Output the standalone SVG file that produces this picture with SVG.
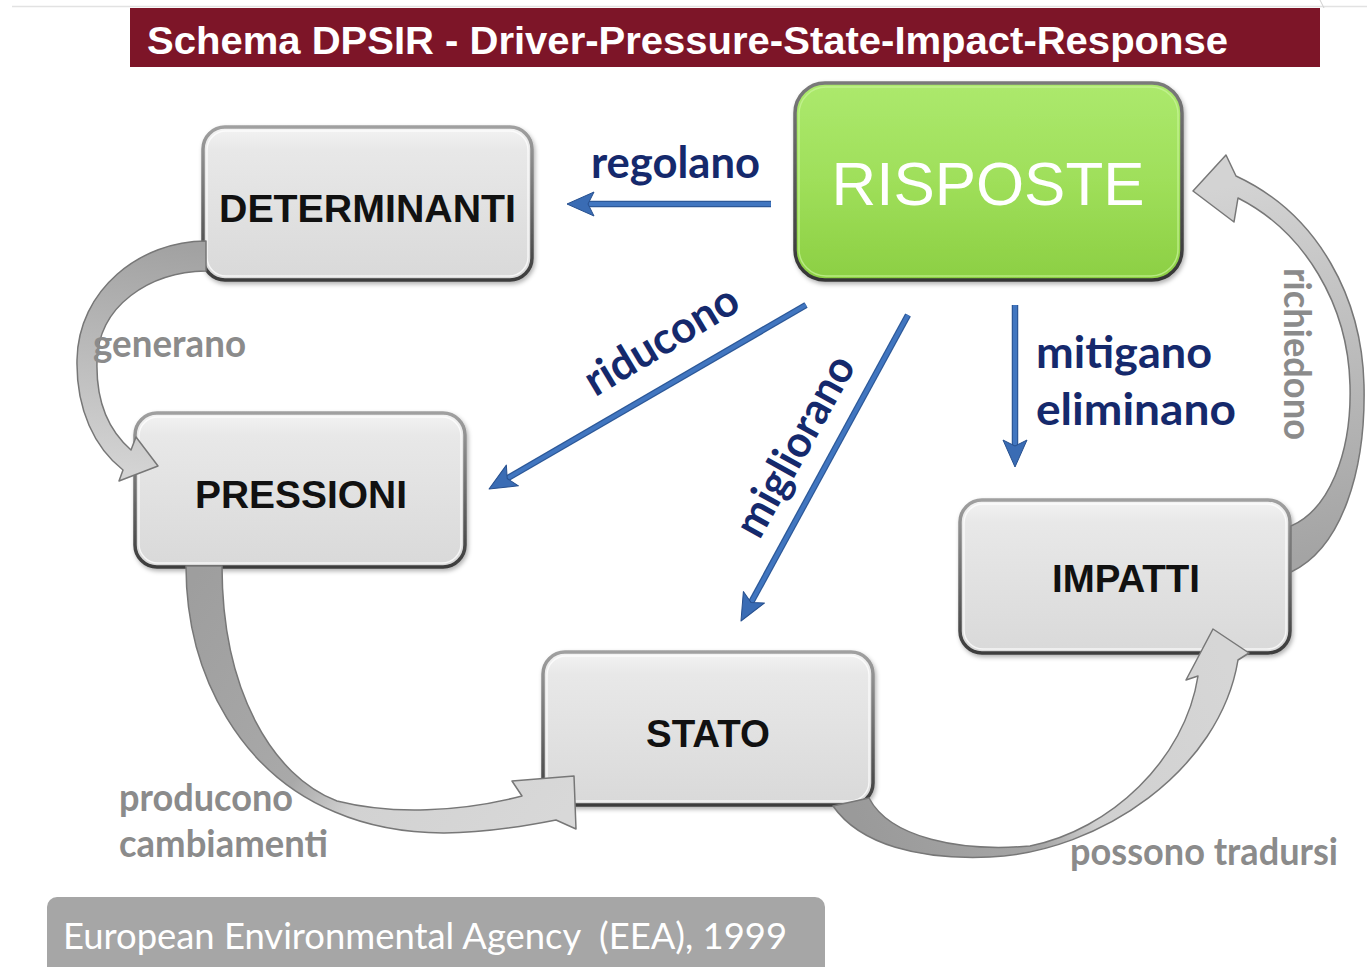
<svg xmlns="http://www.w3.org/2000/svg" width="1367" height="967" viewBox="0 0 1367 967">
  <style>
    .box { fill: url(#boxFill); stroke: url(#boxEdge); stroke-width: 3.5; filter: url(#shadow); }
    .gloss { fill: none; stroke: #ffffff; stroke-opacity: 0.75; stroke-width: 1.5; }
    .node-label { font-family: "Liberation Sans", Arial, sans-serif; font-weight: bold; font-size: 38px; fill: #111111; text-anchor: middle; }
    .verb { font-family: Lato, "Open Sans", sans-serif; font-weight: bold; font-size: 44px; fill: #15296c; }
    .soft-verb { font-family: Lato, "Open Sans", sans-serif; font-weight: bold; font-size: 38px; fill: #8b8b8b; }
    .curve { stroke: #777777; stroke-width: 1.5; stroke-linejoin: round; }
    .blue-edge { fill: none; stroke: #2c5898; stroke-width: 6.5; }
    .blue { fill: none; stroke: #4176c0; stroke-width: 4; marker-end: url(#blueHead); }
  </style>
  <defs>
    <linearGradient id="boxFill" x1="0" y1="0" x2="0" y2="1">
      <stop offset="0" stop-color="#f3f3f3"/>
      <stop offset="0.15" stop-color="#e8e8e8"/>
      <stop offset="1" stop-color="#d9d9d9"/>
    </linearGradient>
    <linearGradient id="boxEdge" x1="0" y1="0" x2="0" y2="1">
      <stop offset="0" stop-color="#a0a0a0"/>
      <stop offset="1" stop-color="#3c3c3c"/>
    </linearGradient>
    <linearGradient id="greenFill" x1="0" y1="0" x2="0" y2="1">
      <stop offset="0" stop-color="#ace96d"/>
      <stop offset="0.5" stop-color="#9fdf5a"/>
      <stop offset="1" stop-color="#8ccf43"/>
    </linearGradient>
    <linearGradient id="greenEdge" x1="0" y1="0" x2="0" y2="1">
      <stop offset="0" stop-color="#7a7a7a"/>
      <stop offset="1" stop-color="#353535"/>
    </linearGradient>
    <linearGradient id="gA" gradientUnits="userSpaceOnUse" x1="160" y1="245" x2="130" y2="470">
      <stop offset="0" stop-color="#a2a2a2"/>
      <stop offset="1" stop-color="#d3d3d3"/>
    </linearGradient>
    <linearGradient id="gB" gradientUnits="userSpaceOnUse" x1="200" y1="570" x2="560" y2="820">
      <stop offset="0" stop-color="#9e9e9e"/>
      <stop offset="0.45" stop-color="#a9a9a9"/>
      <stop offset="0.6" stop-color="#d2d2d2"/>
      <stop offset="1" stop-color="#d8d8d8"/>
    </linearGradient>
    <linearGradient id="gC" gradientUnits="userSpaceOnUse" x1="850" y1="800" x2="1220" y2="650">
      <stop offset="0" stop-color="#9a9a9a"/>
      <stop offset="0.4" stop-color="#a6a6a6"/>
      <stop offset="0.55" stop-color="#d0d0d0"/>
      <stop offset="1" stop-color="#d6d6d6"/>
    </linearGradient>
    <linearGradient id="gD" gradientUnits="userSpaceOnUse" x1="1290" y1="560" x2="1210" y2="190">
      <stop offset="0" stop-color="#a4a4a4"/>
      <stop offset="1" stop-color="#d3d3d3"/>
    </linearGradient>
    <filter id="shadow" x="-10%" y="-10%" width="125%" height="130%">
      <feDropShadow dx="1.5" dy="2.5" stdDeviation="2" flood-color="#000000" flood-opacity="0.3"/>
    </filter>
    <marker id="blueHead" markerUnits="userSpaceOnUse" viewBox="0 0 30 26" markerWidth="30" markerHeight="26" refX="10" refY="13" orient="auto">
      <path d="M1,1 L28,13 L1,25 L7,13 Z" fill="#3a6cb4" stroke="#264f8e" stroke-width="1" stroke-linejoin="round"/>
    </marker>
  </defs>

  <rect width="1367" height="967" fill="#ffffff"/>
  <path d="M12,6.5 H1367" stroke="#e2e2e2" stroke-width="1.5"/>
  <path d="M1320,0 Q1322,4 1324,8" stroke="#cfcfcf" stroke-width="1" fill="none"/>

  <!-- title band -->
  <g id="title">
    <rect x="130" y="8" width="1190" height="59" fill="#7d1528"/>
    <text x="147" y="54" font-family="'Liberation Sans', Arial, sans-serif" font-weight="bold" font-size="38" fill="#ffffff" textLength="1081" lengthAdjust="spacingAndGlyphs">Schema DPSIR - Driver-Pressure-State-Impact-Response</text>
  </g>

  <!-- source note -->
  <g id="source">
    <rect x="47" y="897" width="778" height="85" rx="10" fill="#a6a6a6"/>
    <text x="63" y="949" font-family="Lato, 'Open Sans', sans-serif" font-size="36" fill="#ffffff" textLength="724" lengthAdjust="spacingAndGlyphs">European Environmental Agency &#160;(EEA), 1999</text>
  </g>

  <!-- nodes -->
  <g id="node-determinanti">
    <rect class="box" x="203" y="127" width="329" height="153" rx="22"/>
    <rect class="gloss" x="207" y="131" width="321" height="145" rx="19"/>
    <text class="node-label" x="367.5" y="222" textLength="297" lengthAdjust="spacingAndGlyphs">DETERMINANTI</text>
  </g>
  <g id="node-pressioni">
    <rect class="box" x="135" y="413" width="330" height="154" rx="22"/>
    <rect class="gloss" x="139" y="417" width="322" height="146" rx="19"/>
    <text class="node-label" x="301" y="508" textLength="212" lengthAdjust="spacingAndGlyphs">PRESSIONI</text>
  </g>
  <g id="node-stato">
    <rect class="box" x="543" y="652" width="330" height="153" rx="22"/>
    <rect class="gloss" x="547" y="656" width="322" height="145" rx="19"/>
    <text class="node-label" x="708" y="747" textLength="124" lengthAdjust="spacingAndGlyphs">STATO</text>
  </g>
  <g id="node-impatti">
    <rect class="box" x="960" y="500" width="330" height="153" rx="22"/>
    <rect class="gloss" x="964" y="504" width="322" height="145" rx="19"/>
    <text class="node-label" x="1126" y="592" textLength="148" lengthAdjust="spacingAndGlyphs">IMPATTI</text>
  </g>
  <g id="node-risposte">
    <rect x="795" y="83" width="387" height="197" rx="30" fill="url(#greenFill)" stroke="url(#greenEdge)" stroke-width="3.5" filter="url(#shadow)"/>
    <rect x="799" y="87" width="379" height="189" rx="27" fill="none" stroke="#c9f59a" stroke-opacity="0.7" stroke-width="1.5"/>
    <text x="988" y="205" font-family="'Liberation Sans', Arial, sans-serif" font-size="62" fill="#ffffff" text-anchor="middle" textLength="313" lengthAdjust="spacingAndGlyphs">RISPOSTE</text>
  </g>

  <!-- connectors -->
  <g id="connectors">
    <!-- cycle: determinanti -> pressioni -> stato -> impatti -> risposte -->
    <path id="arc-generano" class="curve" fill="url(#gA)" d="M206,241 C140,241 78,290 77,360 C76,410 95,448 123,470 L119,481 L158,466 L136,437 L131,450 C108,430 96,400 97,362 C98,305 150,272 206,271 Z"/>
    <path id="arc-producono" class="curve" fill="url(#gB)" d="M186,566 C186,680 245,775 335,812 C405,842 480,835 556,820 L576,829 L574,776 L512,781 L522,796 C460,812 392,815 337,801 C272,776 222,690 222,566 Z"/>
    <path id="arc-tradursi" class="curve" fill="url(#gC)" d="M833,806 C860,845 920,860 990,857 C1100,852 1220,770 1238,660 L1249,653 L1213,629 L1186,680 L1198,676 C1185,760 1110,830 1030,846 C960,852 890,838 869,798 Z"/>
    <path id="arc-richiedono" class="curve" fill="url(#gD)" d="M1291,572 C1342,548 1366,470 1364,385 C1362,300 1320,215 1236,176 L1226,155 L1193,191 L1234,222 L1238,198 C1305,232 1348,305 1350,385 C1352,455 1328,510 1291,526 Z"/>

    <!-- responses acting on the other elements -->
    <g id="arrow-regolano">
      <line class="blue-edge" x1="771" y1="204" x2="588" y2="204"/>
      <line class="blue" x1="771" y1="204" x2="585" y2="204"/>
    </g>
    <g id="arrow-riducono">
      <line class="blue-edge" x1="806" y1="305" x2="507" y2="478.5"/>
      <line class="blue" x1="806" y1="305" x2="504.6" y2="480"/>
    </g>
    <g id="arrow-migliorano">
      <line class="blue-edge" x1="908" y1="315" x2="751" y2="602.5"/>
      <line class="blue" x1="908" y1="315" x2="749.6" y2="605.2"/>
    </g>
    <g id="arrow-mitigano">
      <line class="blue-edge" x1="1015" y1="305" x2="1015" y2="446"/>
      <line class="blue" x1="1015" y1="305" x2="1015" y2="449"/>
    </g>
  </g>

  <!-- connector labels -->
  <g id="labels">
    <text class="verb" x="591" y="178" textLength="169" lengthAdjust="spacingAndGlyphs">regolano</text>
    <text class="verb" x="669" y="353" text-anchor="middle" transform="rotate(-31 669 353)" textLength="172" lengthAdjust="spacingAndGlyphs">riducono</text>
    <text class="verb" x="808" y="453" text-anchor="middle" transform="rotate(-61 808 453)" textLength="200" lengthAdjust="spacingAndGlyphs">migliorano</text>
    <text class="verb" x="1036" y="368" textLength="176" lengthAdjust="spacingAndGlyphs">mitigano</text>
    <text class="verb" x="1036" y="425" textLength="200" lengthAdjust="spacingAndGlyphs">eliminano</text>

    <text class="soft-verb" x="93" y="357" textLength="153" lengthAdjust="spacingAndGlyphs">generano</text>
    <text class="soft-verb" x="119" y="811" textLength="174" lengthAdjust="spacingAndGlyphs">producono</text>
    <text class="soft-verb" x="119" y="857" textLength="209" lengthAdjust="spacingAndGlyphs">cambiamenti</text>
    <text class="soft-verb" x="1070" y="865" textLength="268" lengthAdjust="spacingAndGlyphs">possono tradursi</text>
    <text class="soft-verb" x="1284" y="354" font-weight="normal" font-size="34" text-anchor="middle" transform="rotate(90 1284 354)" textLength="172" lengthAdjust="spacingAndGlyphs">richiedono</text>
  </g>
</svg>
